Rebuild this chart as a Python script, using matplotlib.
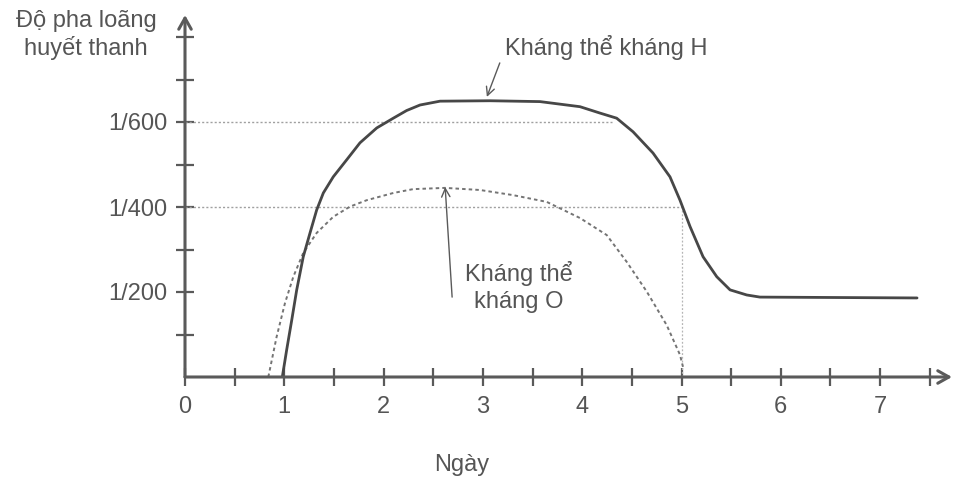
import matplotlib
matplotlib.use("Agg")
import matplotlib.pyplot as plt

plt.rcParams['font.family'] = ['Liberation Sans', 'DejaVu Sans']

# ---- data (day, serum titer denominator) ----
h_days = [0.98, 1.024, 1.075, 1.125, 1.191, 1.259, 1.326, 1.393, 1.493, 1.628, 1.762,
          1.931, 2.098, 2.232, 2.367, 2.568, 3.072, 3.575, 3.978, 4.179, 4.347, 4.512,
          4.713, 4.884, 4.985, 5.086, 5.217, 5.355, 5.489, 5.657, 5.79, 7.372]
h_titer = [0, 64, 134, 205, 283, 339, 393, 433, 471, 511, 551,
           586, 609, 627, 640, 649, 650, 648, 636, 621, 609, 577,
           527, 471, 416, 354, 283, 236, 205, 193, 188, 186]

o_days = [0.839, 0.923, 1.007, 1.091, 1.191, 1.326, 1.493, 1.662, 1.83, 2.098, 2.296,
          2.618, 2.971, 3.303, 3.643, 3.978, 4.247, 4.448, 4.65, 4.851, 4.985, 5.018]
o_titer = [0, 95, 174, 236, 292, 339, 377, 401, 416, 433, 442,
           445, 440, 428, 412, 374, 334, 271, 201, 122, 52, 21]

ref_600_end = 4.30
ref_400_end = 5.0

x_major = [0, 1, 2, 3, 4, 5, 6, 7]
x_minor = [0.5, 1.5, 2.5, 3.5, 4.5, 5.5, 6.5, 7.5]
y_ticks = [100, 200, 300, 400, 500, 600, 700, 800]
y_labels = ['', '1/200', '', '1/400', '', '1/600', '', '']

ylabel_text = 'Độ pha loãng\nhuyết thanh'
xlabel_text = 'Ngày'
label_h = 'Kháng thể kháng H'
label_o = 'Kháng thể\nkháng O'

# ---- figure ----
W, H = 957, 483
fig = plt.figure(figsize=(W / 100, H / 100), dpi=100)
x0_px, base_px = 185, 377
ppx, ppy = 99.3, 0.425
xmax = (952 - x0_px) / ppx
ymax = (base_px - 15) / ppy
ax = fig.add_axes([x0_px / W, (H - base_px) / H, (952 - x0_px) / W, (base_px - 15) / H])
ax.set_xlim(0, xmax)
ax.set_ylim(0, ymax)

axc = '#5a5a5a'
txtc = '#555555'
for s in ax.spines.values():
    s.set_visible(False)

# axes with arrows
ax.annotate('', xy=(1, 0), xytext=(0, 0), xycoords='axes fraction',
            arrowprops=dict(arrowstyle='->,head_length=0.8,head_width=0.45', lw=2.2, color=axc,
                            shrinkA=0, shrinkB=0))
ax.annotate('', xy=(0, 1), xytext=(0, 0), xycoords='axes fraction',
            arrowprops=dict(arrowstyle='->,head_length=0.8,head_width=0.45', lw=2.2, color=axc,
                            shrinkA=0, shrinkB=0))

ax.set_xticks(x_major)
ax.set_xticklabels([str(v) for v in x_major])
ax.set_xticks(x_minor, minor=True)
ax.set_yticks(y_ticks)
ax.set_yticklabels(y_labels)
ax.tick_params(axis='x', which='both', direction='inout', length=13, width=1.6, color=axc,
               labelsize=17, labelcolor=txtc, pad=7)
ax.tick_params(axis='y', which='both', direction='inout', length=13, width=1.6, color=axc,
               labelsize=17, labelcolor=txtc, pad=6)

# reference lines
ax.plot([0, ref_600_end], [600, 600], color='#a0a0a0', lw=1.0, ls=(0, (1.5, 1.5)))
ax.plot([0, ref_400_end], [400, 400], color='#a0a0a0', lw=1.0, ls=(0, (1.5, 1.5)))
ax.plot([ref_400_end, ref_400_end], [0, 400], color='#b5b5b5', lw=0.9, ls=(0, (1.5, 1.5)))

# curves
ax.plot(o_days, o_titer, color='#747474', lw=1.4, ls=(0, (1.8, 1.6)))
ax.plot(h_days, h_titer, color='#474747', lw=2.0, solid_capstyle='round',
        solid_joinstyle='round')

# annotations
ax.text(3.22, 776, label_h, fontsize=17, color=txtc, ha='left', va='center')
ax.annotate('', xy=(3.04, 659), xytext=(3.17, 739),
            arrowprops=dict(arrowstyle='->,head_length=0.6,head_width=0.3', lw=1.0, color=axc,
                            shrinkA=0, shrinkB=0))
ax.annotate('', xy=(2.62, 447), xytext=(2.69, 188),
            arrowprops=dict(arrowstyle='->,head_length=0.6,head_width=0.3', lw=1.0, color=axc,
                            shrinkA=0, shrinkB=0))
ax.text(3.36, 212, label_o, fontsize=17, color=txtc, ha='center', va='center',
        linespacing=1.3)

fig.text(86 / W, 1 - 35 / H, ylabel_text, fontsize=17, color=txtc, ha='center', va='center',
         linespacing=1.25)
fig.text(462 / W, 1 - 465 / H, xlabel_text, fontsize=17, color=txtc, ha='center', va='center')

fig.savefig('out.png', dpi=100)
